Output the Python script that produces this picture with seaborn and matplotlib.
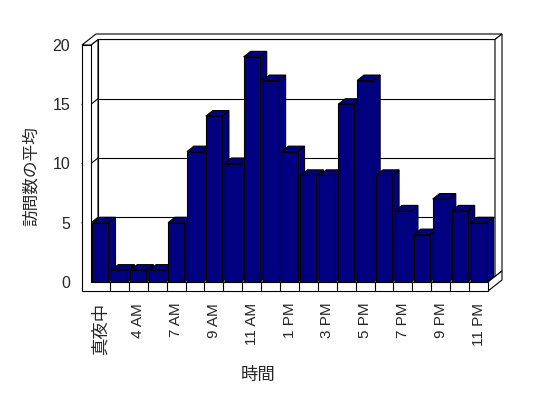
import numpy as np, pandas as pd
import matplotlib; matplotlib.use("Agg"); import matplotlib.pyplot as plt
from matplotlib.patches import Polygon
from matplotlib.lines import Line2D
from matplotlib.transforms import IdentityTransform
import seaborn as sns

# hourly averages (hidden labels sit between the shown ones)
hours = ["真夜中", "2 AM", "4 AM", "6 AM", "7 AM", "8 AM", "9 AM", "10 AM", "11 AM", "正午",
         "1 PM", "2 PM", "3 PM", "4 PM", "5 PM", "6 PM", "7 PM", "8 PM", "9 PM", "10 PM", "11 PM"]
visits = [5, 1, 1, 1, 5, 11, 14, 10, 19, 17, 11, 9, 9, 15, 17, 9, 6, 4, 7, 6, 5]
yticks = [0, 5, 10, 15, 20]

sns.set_style("white")
plt.rcParams["font.family"] = ["Liberation Sans", "Noto Sans CJK JP"]

W, H = 548, 398
fig = plt.figure(figsize=(W/100, H/100), dpi=100)
fig.patch.set_facecolor("white")
ax = fig.add_axes([91/W, 1-282/H, 397/W, 237/H])

df = pd.DataFrame({"hour": hours, "visits": visits})
sns.barplot(data=df, x="hour", y="visits", color="#000080", saturation=1,
            edgecolor="black", linewidth=0.8, width=0.85, ax=ax)
bars = list(ax.patches)
ax.set_xlim(-0.5, len(hours)-0.5); ax.set_ylim(0, 20)
ax.set_autoscale_on(False)
for s in ax.spines.values(): s.set_visible(False)
ax.set_facecolor("none")
ax.grid(False)

DX, DY, T = 7.0, 5.5, 9.0   # depth offset per step, wall/floor thickness (px)
fig.canvas.draw()

def px(xd, yd, k=0.0, ex=0.0, ey=0.0):
    X, Y = ax.transData.transform((xd, yd))
    return (X + k*DX + ex, Y + k*DY + ey)

def poly(pts, z, fc="white"):
    p = Polygon(pts, closed=True, facecolor=fc, edgecolor="black", linewidth=0.8,
                transform=IdentityTransform(), clip_on=False, zorder=z)
    ax.add_artist(p)

def line(pts, z):
    xs, ys = zip(*pts)
    ax.add_artist(Line2D(xs, ys, color="black", linewidth=0.8,
                         transform=IdentityTransform(), clip_on=False, zorder=z))

x0, x1 = -0.5, len(hours)-0.5
# back wall + gridlines
poly([px(x0, 0, 1), px(x1, 0, 1), px(x1, 20, 1), px(x0, 20, 1)], 0.5)
for v in yticks[1:-1]:
    line([px(x0, v, 1), px(x1, v, 1)], 0.6)
# floor top face
poly([px(x0, 0, 0), px(x1, 0, 0), px(x1, 0, 1), px(x0, 0, 1)], 0.7)
# left wall inner face
poly([px(x0, 0, 0), px(x0, 20, 0), px(x0, 20, 1), px(x0, 0, 1)], 0.7)
for v in yticks[1:-1]:
    line([px(x0, v, 0, ex=-T), px(x0, v, 0), px(x0, v, 1)], 0.8)
# wall tops, right faces
poly([px(x0, 20, 0, ex=-T), px(x0, 20, 0), px(x0, 20, 1), px(x1, 20, 1),
      px(x1, 20, 2), px(x0, 20, 2, ex=-T)], 0.8)
poly([px(x1, 20, 1), px(x1, 20, 2), px(x1, 0, 2), px(x1, 0, 1)], 0.8)
poly([px(x1, 0, 0), px(x1, 0, 0, ey=-T), px(x1, 0, 2, ey=-T), px(x1, 0, 2)], 0.9)
# L-shaped front of left wall and floor
poly([px(x0, 20, 0, ex=-T), px(x0, 20, 0), px(x0, 0, 0), px(x1, 0, 0),
      px(x1, 0, 0, ey=-T), px(x0, 0, 0, ex=-T, ey=-T)], 1.0)
for i in range(1, len(hours)):
    line([px(i-0.5, 0, 0), px(i-0.5, 0, 0, ey=-T)], 1.1)

# 3D bars: side and top faces
for i, p in enumerate(bars):
    p.set_zorder(3+i)
    bx, bw, bh = p.get_x(), p.get_width(), p.get_height()
    poly([px(bx+bw, 0, 0), px(bx+bw, bh, 0), px(bx+bw, bh, 1), px(bx+bw, 0, 1)], 3+i-0.1, "#000080")
    poly([px(bx, bh, 0), px(bx+bw, bh, 0), px(bx+bw, bh, 1), px(bx, bh, 1)], 3+i-0.1, "#000080")

ax.set_xticks(range(0, len(hours), 2))
ax.set_xticklabels(hours[::2], rotation=90, va="top", ha="center", fontsize=11)
ax.get_xticklabels()[0].set_fontsize(12.5)
ax.set_yticks(yticks)
ax.set_yticklabels([str(v) for v in yticks], fontsize=11.5)
ax.tick_params(axis="x", length=0, pad=15)
ax.tick_params(axis="y", length=0, pad=15)
ax.set_xlabel(""); ax.set_ylabel("")

fig.text(31/W, 1-176/H, "訪問数の平均", rotation=90, ha="center", va="center", fontsize=12)
fig.text(258/W, 1-375/H, "時間", ha="center", va="center", fontsize=12.5)

fig.savefig("out.png", dpi=100)
